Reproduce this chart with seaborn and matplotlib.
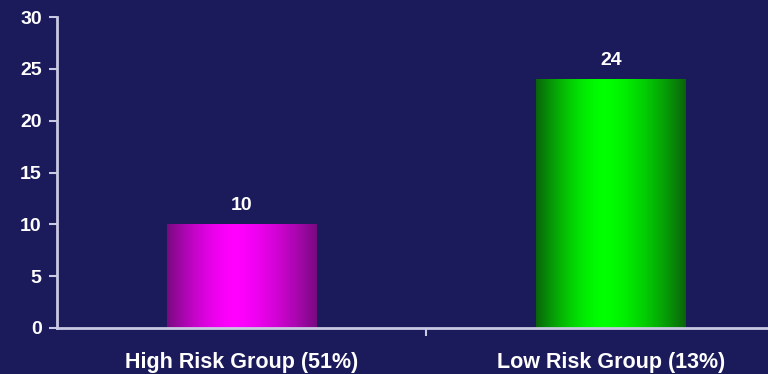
import numpy as np
import pandas as pd
import matplotlib
matplotlib.use("Agg")
import matplotlib.pyplot as plt
from matplotlib.colors import LinearSegmentedColormap
import seaborn as sns

categories = ["High Risk Group (51%)", "Low Risk Group (13%)"]
values = [10, 24]
yticks = [0, 5, 10, 15, 20, 25, 30]

bg = "#1b1a5a"
axis_col = "#c9c9e3"
edge_dark = ["#780a80", "#0a640a"]
centre = ["#ff00ff", "#00ff00"]

sns.set_theme(style="white")
plt.rcParams["font.family"] = ["Liberation Sans", "DejaVu Sans"]
plt.rcParams["font.weight"] = "bold"

fig = plt.figure(figsize=(7.68, 3.74), dpi=100)
fig.patch.set_facecolor(bg)
ax = fig.add_axes([57 / 768, 46 / 374, (795.5 - 57) / 768, (328 - 17) / 374])
ax.set_facecolor(bg)

df = pd.DataFrame({"group": categories, "value": values})
sns.barplot(data=df, x="group", y="value", ax=ax, width=0.405,
            color="#ff00ff", saturation=1, linewidth=0)

ax.set_ylim(0, 30)
ax.set_xlim(-0.5, 1.5)
ax.set_yticks(yticks)
ax.set_yticklabels([str(t) for t in yticks])

# gradient fills clipped to bars
for i, patch in enumerate(ax.patches):
    x0 = patch.get_x(); w = patch.get_width(); h = patch.get_height()
    cmap = LinearSegmentedColormap.from_list(
        f"g{i}", [edge_dark[i], centre[i]], N=256)
    t = np.linspace(0, 1, 256)
    d = np.where(t < 0.45, (0.45 - t) / 0.45, (t - 0.45) / 0.55)
    b = 1 - np.clip(d, 0, 1) ** 1.6
    grad = b.reshape(1, -1)
    im = ax.imshow(grad, cmap=cmap, aspect="auto", vmin=0, vmax=1,
                   extent=[x0, x0 + w, 0, h], zorder=patch.get_zorder() + 0.1)
    im.set_clip_path(patch)
    ax.text(x0 + w / 2, h + 1.0, str(values[i]), ha="center", va="bottom",
            color="white", fontsize=14, fontweight="bold")

ax.set_xlim(-0.5, 1.5)
ax.set_ylim(0, 30)
ax.set_xlabel(""); ax.set_ylabel("")

for s_ in ["top", "right"]:
    ax.spines[s_].set_visible(False)
for s_ in ["left", "bottom"]:
    ax.spines[s_].set_color(axis_col)
    ax.spines[s_].set_linewidth(2)

ax.tick_params(axis="y", which="both", left=True, length=6, width=1.5,
               color=axis_col, labelcolor="white", labelsize=14, pad=5)
ax.set_xticks([0, 1])
ax.set_xticklabels(categories)
ax.tick_params(axis="x", which="major", bottom=False, labelcolor="white",
               labelsize=15.5, pad=11)
ax.set_xticks([0.5], minor=True)
ax.tick_params(axis="x", which="minor", bottom=True, length=6, width=1.5,
               color=axis_col)
for lbl in ax.get_xticklabels() + ax.get_yticklabels():
    lbl.set_fontweight("bold")

fig.savefig("out.png", dpi=100, facecolor=bg)
